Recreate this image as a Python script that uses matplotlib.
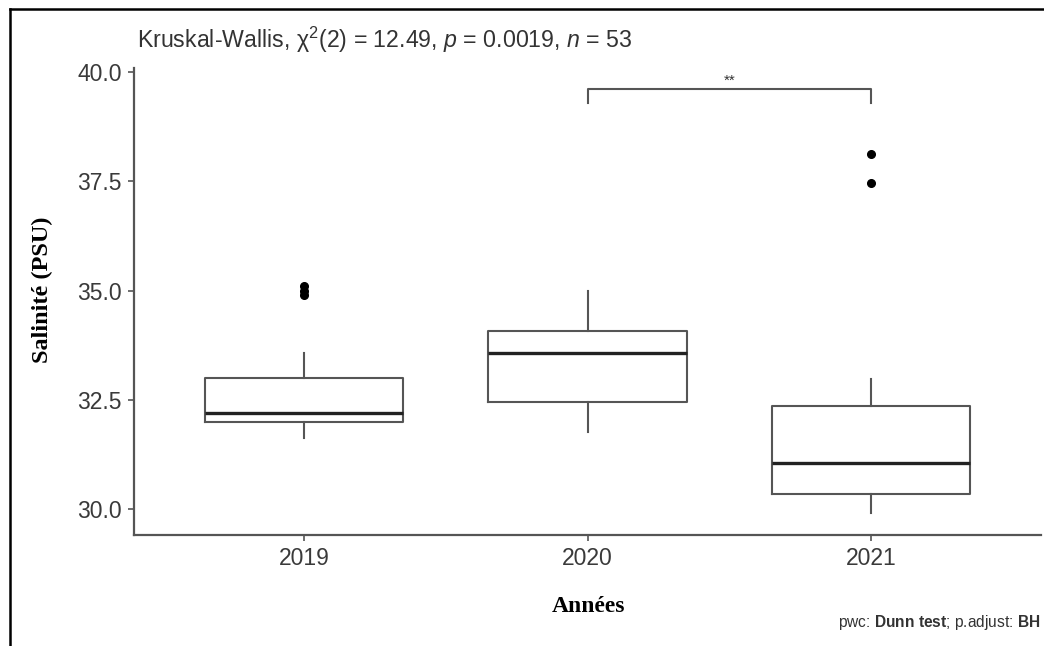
import matplotlib
matplotlib.use("Agg")
import matplotlib.pyplot as plt
from matplotlib.lines import Line2D

# ---- data ----
years = ["2019", "2020", "2021"]
q1 = [31.99, 32.46, 30.34]
medians = [32.21, 33.57, 31.06]
q3 = [33.01, 34.08, 32.37]
whisker_low = [31.63, 31.77, 29.90]
whisker_high = [33.58, 35.00, 32.97]
outliers = [[35.10, 35.00, 34.90], [], [38.12, 37.47]]
y_ticks = [30.0, 32.5, 35.0, 37.5, 40.0]
bracket_pair = (2, 3)
bracket_y = 39.61
bracket_label = "**"

plt.rcParams['font.family'] = ['Liberation Sans', 'DejaVu Sans']
plt.rcParams['mathtext.fontset'] = 'custom'
plt.rcParams['mathtext.rm'] = 'Liberation Sans'
plt.rcParams['mathtext.it'] = 'Liberation Sans:italic'
plt.rcParams['mathtext.bf'] = 'Liberation Sans:bold'

fig = plt.figure(figsize=(10.44, 6.46), dpi=100)
ax = fig.add_axes([134/1044, 1 - 534.9/646, (1041 - 134)/1044, (534.9 - 67.7)/646])

stats = []
for i in range(len(years)):
    stats.append(dict(med=medians[i], q1=q1[i], q3=q3[i],
                      whislo=whisker_low[i], whishi=whisker_high[i],
                      fliers=outliers[i], label=years[i]))

box_col = "#555555"
ax.bxp(stats, positions=[1, 2, 3], widths=0.7, showcaps=False,
       boxprops=dict(color=box_col, linewidth=1.5),
       whiskerprops=dict(color=box_col, linewidth=1.5),
       medianprops=dict(color="#222222", linewidth=2.4),
       flierprops=dict(marker='o', markerfacecolor='black', markeredgecolor='black',
                       markersize=5.5, linestyle='none'))

ax.set_xlim(0.4, 3.6)
ax.set_ylim(29.41, 40.10)
ax.set_yticks(y_ticks)
ax.set_yticklabels([f"{v:.1f}" for v in y_ticks])
ax.set_xticks([1, 2, 3])
ax.set_xticklabels(years)

for s in ["top", "right"]:
    ax.spines[s].set_visible(False)
for s in ["left", "bottom"]:
    ax.spines[s].set_color("#555555")
    ax.spines[s].set_linewidth(1.6)
ax.tick_params(axis='both', colors="#555555", width=1.2, length=4,
               labelcolor="#3a3a3a")
ax.tick_params(axis='y', labelsize=16.5, pad=5)
ax.tick_params(axis='x', labelsize=16.5, pad=5)

# significance bracket
x1, x2 = bracket_pair
leg = 0.31
ax.plot([x1, x1, x2, x2], [bracket_y - leg, bracket_y, bracket_y, bracket_y - leg],
        color="#555555", linewidth=1.5, clip_on=False)
ax.text((x1 + x2) / 2, bracket_y + 0.02, bracket_label, ha='center', va='bottom',
        fontsize=11, color="#333333")

# title
fig.text(137/1044, 1 - 40/646,
         r"Kruskal-Wallis, χ$^{2}$(2) = 12.49, $\it{p}$ = 0.0019, $\it{n}$ = 53",
         ha='left', va='center', fontsize=16.7, color="#333333")

# axis labels
fig.text(42/1044, 1 - 290/646, "Salinité (PSU)", rotation=90, ha='center', va='center',
         fontsize=17.5, fontweight='bold', family=['Liberation Serif', 'DejaVu Serif'],
         color="black")
fig.text(589/1044, 1 - 607/646, "Années", ha='center', va='center',
         fontsize=17, fontweight='bold', family=['Liberation Serif', 'DejaVu Serif'],
         color="black")

# caption
fig.text(1040/1044, 1 - 623/646, r"pwc: $\bf{Dunn\ test}$; p.adjust: $\bf{BH}$",
         ha='right', va='center', fontsize=11.2, color="#333333")

# frame lines (top and left)
fig.add_artist(Line2D([9.5/1044, 9.5/1044], [0, 1 - 9/646], color='black', linewidth=1.8,
                      transform=fig.transFigure))
fig.add_artist(Line2D([9.5/1044, 1], [1 - 9/646, 1 - 9/646], color='black', linewidth=1.8,
                      transform=fig.transFigure))

fig.savefig("out.png", dpi=100)
